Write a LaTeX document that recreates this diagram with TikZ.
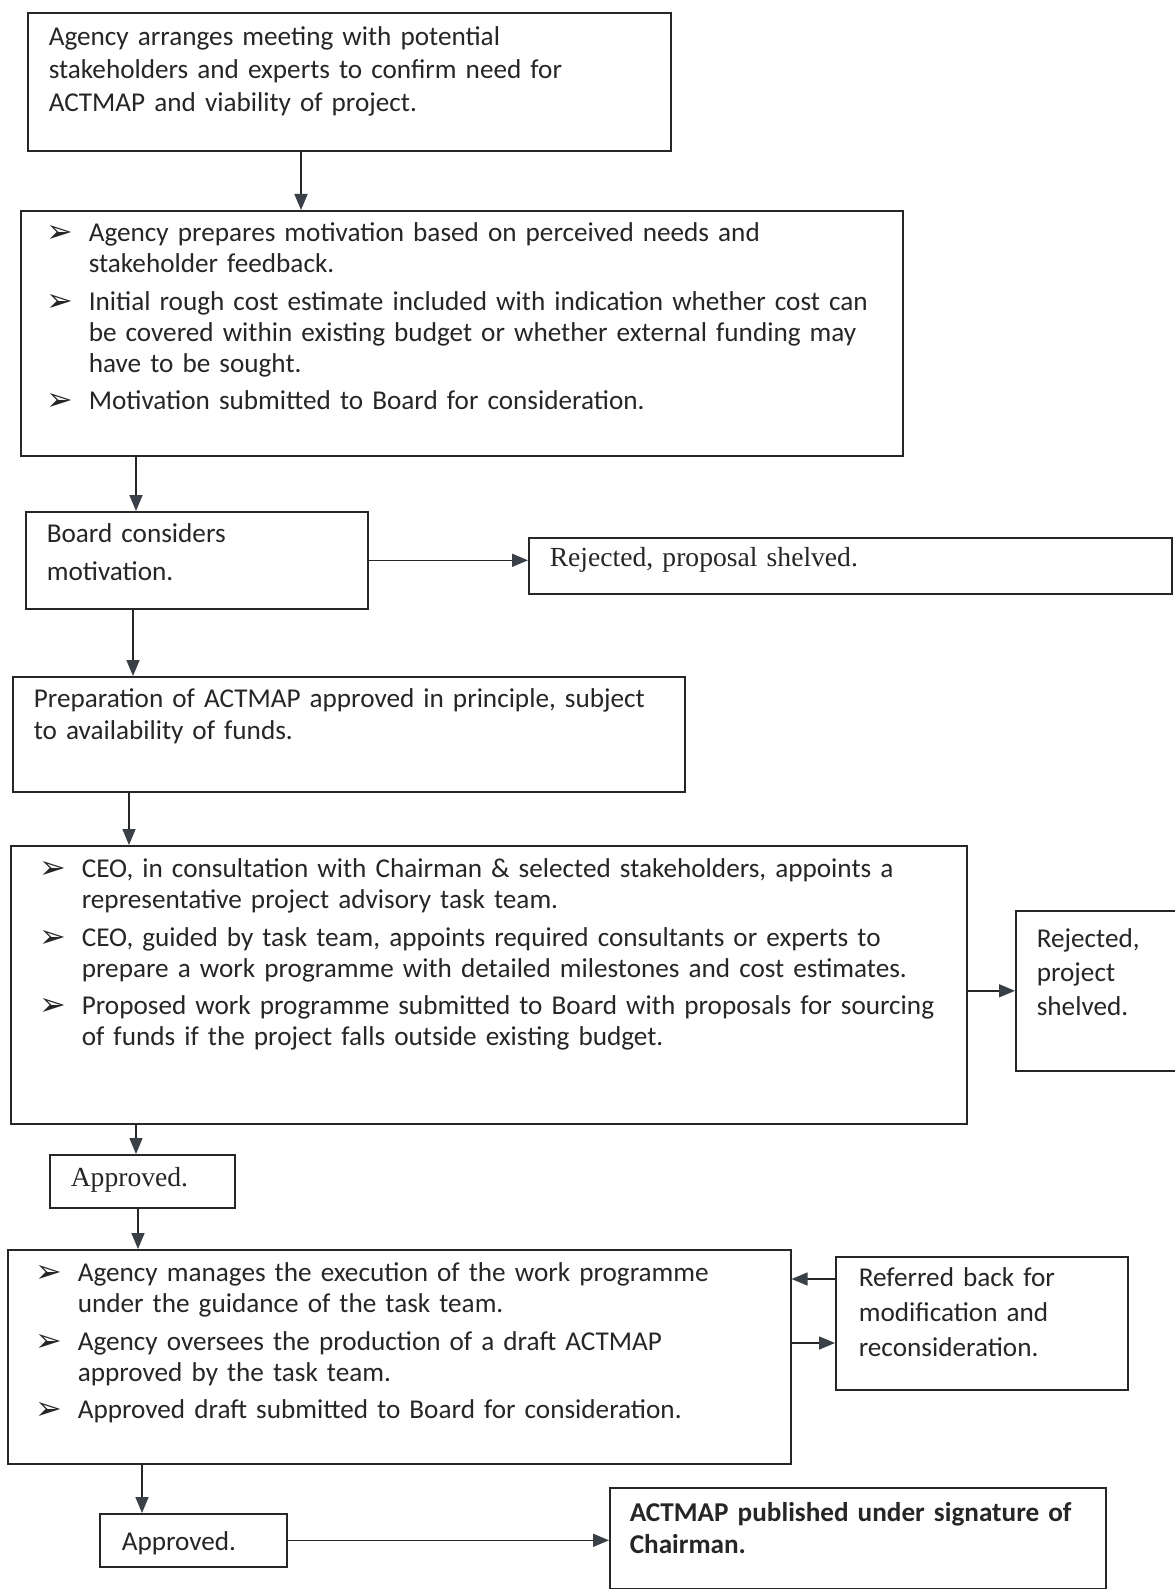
\documentclass[tikz,border=0pt]{standalone}
\usepackage{fontspec}
\setmainfont{Carlito}
\newfontfamily\timesfont{Liberation Serif}
\newfontfamily\bulletfont{DejaVu Sans}
\usetikzlibrary{arrows.meta, calc}
\definecolor{scanink}{RGB}{38, 38, 40}
\definecolor{scantip}{RGB}{58, 64, 72}
\newcommand{\actbul}{\makebox[21pt][l]{\bulletfont\fontsize{16}{16}\selectfont\raisebox{-0.5pt}{➢}}}
\newcommand{\contind}{\hspace*{21pt}}
\tikzset{
  flowbox/.style={
    draw=scanink,
    line width=0.8pt,
    anchor=north west,
    align=left,
    inner ysep=0pt,
    inner xsep=10.5pt,
    text=scanink,
    % one line for each \\, never wrapped
    execute at begin node={\rightskip=0pt plus 1fil minus 60pt}
  },
  lead/.style={font=\fontsize{13.6}{#1}\selectfont},
  flow/.style={
    -{Triangle[length=8pt, width=6.5pt, color=scantip]},
    draw=scanink,
    line width=0.8pt
  }
}

\begin{document}
\begin{tikzpicture}[x=0.5pt, y=-0.5pt]
  \path[use as bounding box, fill=white] (0,0) rectangle (1174,1589);

  \node[flowbox, lead=16.5pt, text width=300.5pt, text height=16.5pt, text depth=52.5pt] (meet) at (27,12)
    {Agency arranges meeting with potential\\ stakeholders and experts to confirm need for\\ ACTMAP and viability of project.};
  \node[flowbox, lead=15.5pt, inner xsep=13pt, text width=415pt, text height=15.5pt, text depth=107pt] (motiv) at (20,210)
    {\actbul Agency prepares motivation based on perceived needs and\\
     \contind stakeholder feedback.\\[3.25pt]
     \actbul Initial rough cost estimate included with indication whether cost can\\
     \contind be covered within existing budget or whether external funding may\\
     \contind have to be sought.\\[3.25pt]
     \actbul Motivation submitted to Board for consideration.};
  \node[flowbox, lead=19pt, text width=150pt, text height=15.5pt, text depth=33pt] (board) at (25,511)
    {Board considers\\ motivation.};
  \node[flowbox, font=\timesfont\fontsize{13.8}{16}\selectfont, text width=300.5pt, text height=14.5pt, text depth=13.5pt] (shelve) at (528,537)
    {Rejected, proposal shelved.};
  \node[flowbox, lead=16pt, text width=315pt, text height=15.5pt, text depth=42pt] (inprinc) at (12,676)
    {Preparation of ACTMAP approved in principle, subject\\ to availability of funds.};
  \node[flowbox, lead=15.5pt, inner xsep=14.5pt, text width=449pt, text height=16pt, text depth=123pt] (team) at (10,845)
    {\actbul CEO, in consultation with Chairman \& selected stakeholders, appoints a\\
     \contind representative project advisory task team.\\[3.25pt]
     \actbul CEO, guided by task team, appoints required consultants or experts to\\
     \contind prepare a work programme with detailed milestones and cost estimates.\\[3.25pt]
     \actbul Proposed work programme submitted to Board with proposals for sourcing\\
     \contind of funds if the project falls outside existing budget.};
  \node[flowbox, lead=17pt, text width=60.5pt, text height=18.5pt, text depth=61.5pt] (drop) at (1015,910)
    {Rejected,\\ project\\ shelved.};
  \node[flowbox, font=\timesfont\fontsize{13.8}{16}\selectfont, text width=71.5pt, text height=16pt, text depth=10.5pt] (ok1) at (49,1154)
    {Approved.};
  \node[flowbox, lead=15.5pt, inner xsep=14pt, text width=363.5pt, text height=16pt, text depth=91pt] (exec) at (7,1249)
    {\actbul Agency manages the execution of the work programme\\
     \contind under the guidance of the task team.\\[3.25pt]
     \actbul Agency oversees the production of a draft ACTMAP\\
     \contind approved by the task team.\\[3.25pt]
     \actbul Approved draft submitted to Board for consideration.};
  \node[flowbox, lead=17.5pt, inner xsep=11.5pt, text width=123pt, text height=15pt, text depth=51.5pt] (refer) at (835,1256)
    {Referred back for\\ modification and\\ reconsideration.};
  \node[flowbox, lead=16pt, inner xsep=11pt, text width=71.5pt, text height=18.5pt, text depth=8pt] (ok2) at (99,1513)
    {Approved.};
  \node[flowbox, inner xsep=10pt, text width=228pt, text height=17pt, text depth=33.5pt, font=\bfseries\fontsize{13.6}{16}\selectfont] (pub) at (609,1487)
    {ACTMAP published under signature of\\ Chairman.};

  \draw[flow] ($(meet.south west)+(274,0)$) -- ($(motiv.north west)+(281,0)$);
  \draw[flow] ($(motiv.south west)+(116,0)$) -- ($(board.north west)+(111,0)$);
  \draw[flow] (board.east) -- (board.east -| shelve.west);
  \draw[flow] ($(board.south west)+(108,0)$) -- ($(inprinc.north west)+(121,0)$);
  \draw[flow] ($(inprinc.south west)+(117,0)$) -- ($(team.north west)+(119,0)$);
  \draw[flow] (team.east |- drop.west) -- (drop.west);
  \draw[flow] ($(team.south west)+(126,0)$) -- ($(ok1.north west)+(87,0)$);
  \draw[flow] ($(ok1.south west)+(89,0)$) -- ($(exec.north west)+(131,0)$);
  \draw[flow] ($(refer.north west)+(0,23)$) -- ($(exec.north east)+(0,30)$);
  \draw[flow] ($(exec.north east)+(0,94)$) -- ($(refer.north west)+(0,87)$);
  \draw[flow] ($(exec.south west)+(135,0)$) -- ($(ok2.north west)+(43,0)$);
  \draw[flow] (ok2.east) -- (ok2.east -| pub.west);
\end{tikzpicture}
\end{document}
